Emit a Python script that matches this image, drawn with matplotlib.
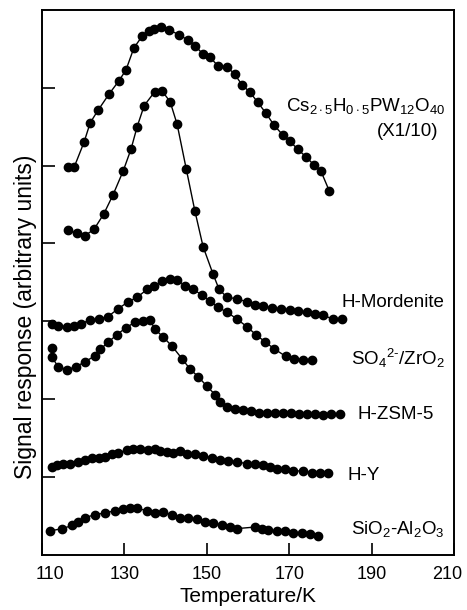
import numpy as np
import matplotlib.pyplot as plt
import matplotlib.transforms as mtransforms

plt.rcParams['font.family'] = ['Liberation Sans', 'DejaVu Sans']
plt.rcParams['mathtext.fontset'] = 'custom'
plt.rcParams['mathtext.rm'] = 'Liberation Sans'
plt.rcParams['mathtext.it'] = 'Liberation Sans'

# temperature (K) and signal (arbitrary units, offset per sample)
t_cs = [116.3, 117.8, 120.2, 121.7, 123.6, 126.3, 128.7, 130.4, 132.3, 134.3, 136.0, 137.2,
        138.9, 140.8, 143.3, 145.4, 147.1, 149.1, 150.8, 152.7, 154.9, 156.8, 158.5, 160.5,
        162.4, 164.4, 166.3, 168.5, 170.2, 172.1, 174.1, 176.0, 177.7, 179.7]
s_cs = [4.98, 4.98, 5.30, 5.55, 5.71, 5.92, 6.09, 6.23, 6.51, 6.66, 6.73, 6.75,
        6.78, 6.74, 6.68, 6.61, 6.54, 6.43, 6.39, 6.28, 6.27, 6.17, 6.04, 5.94,
        5.81, 5.67, 5.52, 5.39, 5.31, 5.21, 5.11, 5.01, 4.93, 4.68]

t_mor = [116.3, 118.5, 120.4, 122.6, 125.0, 127.2, 129.7, 131.6, 133.1, 134.8, 137.4, 139.1,
         141.1, 142.8, 145.0, 147.1, 149.1, 151.5, 153.0, 154.9, 157.3, 159.8, 161.7, 163.6,
         165.8, 168.0, 170.2, 172.1, 174.3, 176.3, 178.2, 180.6, 182.8]
s_mor = [4.17, 4.13, 4.10, 4.18, 4.38, 4.62, 4.93, 5.21, 5.50, 5.77, 5.95, 5.96,
         5.82, 5.53, 4.96, 4.42, 3.96, 3.61, 3.41, 3.31, 3.29, 3.25, 3.21, 3.20,
         3.17, 3.16, 3.15, 3.13, 3.12, 3.10, 3.08, 3.03, 3.03]

t_so4 = [112.4, 113.9, 116.1, 117.8, 119.5, 121.7, 123.8, 126.0, 128.4, 130.9, 133.1, 135.5,
         137.2, 139.1, 141.1, 142.8, 144.7, 146.7, 148.8, 150.8, 152.7, 154.9, 157.3, 159.8,
         161.9, 164.1, 166.3, 169.2, 171.2, 173.3, 175.5]
s_so4 = [2.97, 2.94, 2.93, 2.94, 2.97, 3.02, 3.03, 3.06, 3.16, 3.25, 3.31, 3.41,
         3.45, 3.52, 3.55, 3.53, 3.46, 3.41, 3.34, 3.26, 3.18, 3.12, 3.03, 2.93,
         2.83, 2.74, 2.65, 2.55, 2.52, 2.51, 2.51]

t_zsm = [112.4, 112.4, 113.9, 116.1, 118.3, 120.4, 122.9, 124.1, 126.0, 128.2, 130.4, 132.6,
         134.5, 136.2, 137.4, 139.4, 141.6, 144.0, 145.9, 147.9, 150.0, 152.0, 153.2, 154.9,
         156.8, 158.8, 160.7, 162.7, 164.6, 166.6, 168.5, 170.4, 172.4, 174.3, 176.3, 178.2,
         180.1, 182.3]
s_zsm = [2.66, 2.54, 2.42, 2.38, 2.42, 2.48, 2.56, 2.64, 2.73, 2.83, 2.92, 2.99,
         3.01, 3.02, 2.90, 2.80, 2.68, 2.52, 2.39, 2.29, 2.17, 2.06, 1.97, 1.90,
         1.87, 1.86, 1.85, 1.83, 1.83, 1.82, 1.82, 1.82, 1.81, 1.81, 1.81, 1.80,
         1.81, 1.81]

t_hy = [112.4, 113.6, 115.1, 116.8, 118.7, 120.4, 122.1, 123.8, 125.3, 127.0, 128.4, 130.6,
        132.1, 133.8, 135.7, 137.4, 138.6, 140.3, 141.8, 143.5, 145.2, 147.1, 149.1, 151.3,
        153.2, 155.1, 157.3, 159.8, 161.7, 163.6, 165.3, 167.0, 169.0, 170.9, 173.3, 175.5,
        177.5, 179.4]
s_hy = [1.13, 1.16, 1.17, 1.17, 1.20, 1.22, 1.24, 1.24, 1.26, 1.30, 1.31, 1.35,
        1.36, 1.36, 1.35, 1.36, 1.34, 1.32, 1.31, 1.34, 1.30, 1.30, 1.27, 1.25,
        1.22, 1.21, 1.20, 1.17, 1.17, 1.16, 1.13, 1.11, 1.11, 1.08, 1.08, 1.06,
        1.06, 1.06]

t_sa = [111.9, 114.9, 117.3, 118.7, 120.4, 122.9, 125.3, 127.7, 129.7, 131.4, 133.1, 135.5,
        137.4, 139.4, 141.6, 143.5, 145.4, 147.6, 149.6, 151.5, 153.7, 155.6, 157.3, 161.7,
        163.4, 164.9, 167.0, 169.0, 170.9, 173.1, 175.0, 177.0]
s_sa = [0.31, 0.34, 0.38, 0.43, 0.48, 0.52, 0.54, 0.57, 0.59, 0.60, 0.60, 0.57,
        0.54, 0.55, 0.52, 0.48, 0.48, 0.46, 0.42, 0.41, 0.39, 0.36, 0.34, 0.36,
        0.34, 0.32, 0.31, 0.31, 0.29, 0.28, 0.27, 0.25]

fig = plt.figure(figsize=(4.67, 6.10), dpi=100)
ax = fig.add_axes([0.09, 0.09, 0.882, 0.894])

for t, s in [(t_cs, s_cs), (t_mor, s_mor), (t_so4, s_so4),
             (t_zsm, s_zsm), (t_hy, s_hy), (t_sa, s_sa)]:
    ax.plot(t, s, '-o', color='black', lw=1, ms=6)

# labels next to curves
fs = 13.5
ax.text(207.8, 5.76, r'Cs$_{2\cdot5}$H$_{0\cdot5}$PW$_{12}$O$_{40}$', ha='right', va='center', fontsize=fs)
ax.text(206.2, 5.44, '(X1/10)', ha='right', va='center', fontsize=fs)
ax.text(207.8, 3.24, 'H-Mordenite', ha='right', va='center', fontsize=fs)
ax.text(207.8, 2.52, r'SO$_4$$^{2\text{-}}$/ZrO$_2$', ha='right', va='center', fontsize=fs)
ax.text(205.2, 1.81, 'H-ZSM-5', ha='right', va='center', fontsize=fs)
ax.text(192.0, 1.02, 'H-Y', ha='right', va='center', fontsize=fs)
ax.text(207.8, 0.34, r'SiO$_2$-Al$_2$O$_3$', ha='right', va='center', fontsize=fs)

ax.set_xlim(110, 210)
ax.set_ylim(0, 7)
ax.set_xticks(np.arange(110, 211, 20))
ax.set_yticks(np.arange(1, 7))
ax.set_yticklabels([])
ax.tick_params(direction='in', length=9, width=1.2, labelsize=13, pad=8)
for sp in ax.spines.values():
    sp.set_linewidth(1.4)

# end labels sit a little inside the frame
xl = ax.get_xticklabels()
xl[0].set_transform(xl[0].get_transform() + mtransforms.ScaledTranslation(0.08, 0, fig.dpi_scale_trans))
xl[-1].set_transform(xl[-1].get_transform() + mtransforms.ScaledTranslation(-0.07, 0, fig.dpi_scale_trans))

ax.set_xlabel('Temperature/K', fontsize=15, labelpad=3)
ax.set_ylabel('Signal response (arbitrary units)', fontsize=16.5)
ax.yaxis.set_label_coords(-0.012, 0.437)

fig.savefig('out.png', dpi=100)
